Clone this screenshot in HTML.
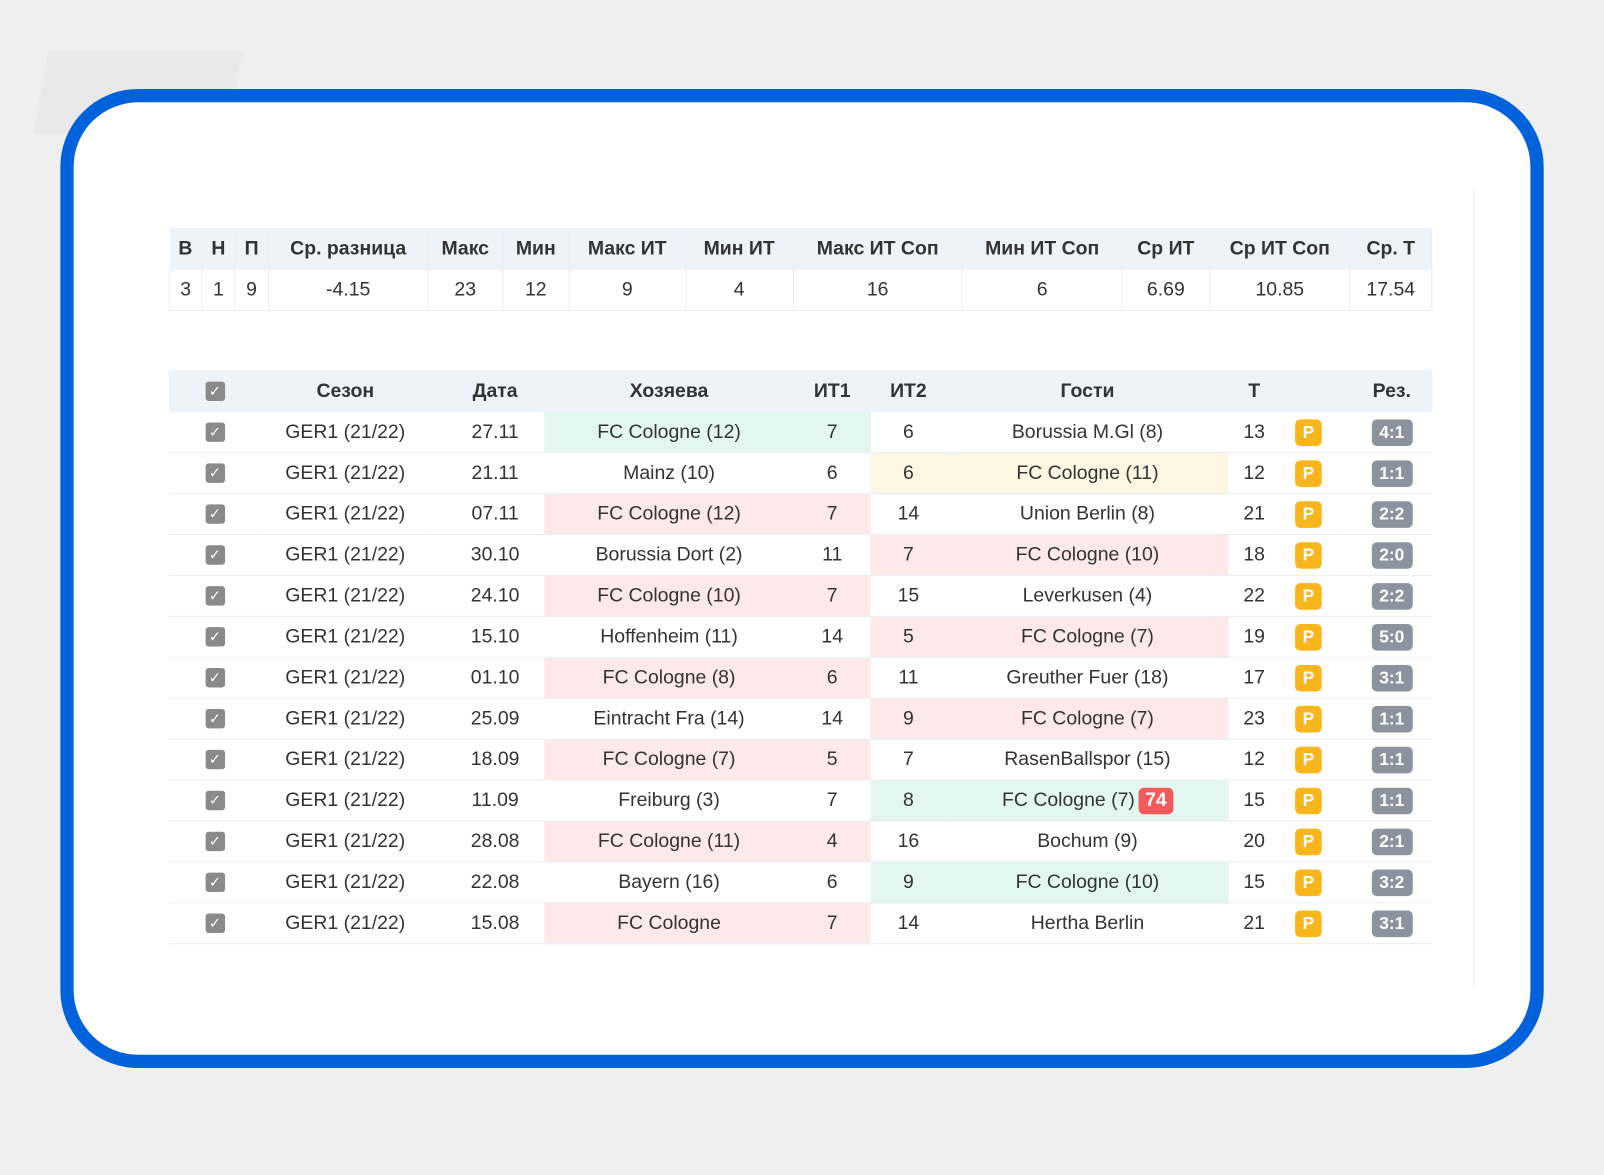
<!DOCTYPE html>
<html><head><meta charset="utf-8"><style>
html,body{margin:0;padding:0;width:1604px;height:1175px;overflow:hidden;background:#efefef;}
#wrap{position:absolute;left:0;top:0;width:1568px;height:1149px;transform:scale(1.023);transform-origin:0 0;font-family:"Liberation Sans","DejaVu Sans",sans-serif;color:#333;}
.bgshape{position:absolute;background:#e9e9e9;}
#card{position:absolute;left:59px;top:87px;width:1424px;height:931px;border:13px solid #0062da;border-radius:76px;background:#fff;}
.vline{position:absolute;left:1440px;top:185px;width:1px;height:780px;background:#eeeeee;}
table{position:absolute;border-collapse:collapse;font-size:19px;}
td,th{text-align:center;padding:0;}
#stats{left:165px;top:223px;width:1235px;}
#stats th{height:41px;background:#eef2f9;font-weight:bold;border-right:1px solid #e9eef5;}
#stats td{height:39px;border:1px solid #e9eef5;border-top:none;}
#main{left:165px;top:362px;width:1235px;}
#main th{height:41px;background:#eef2f9;font-weight:bold;}
#main td{height:39px;border-bottom:1px solid #e9eef5;}
#main td:nth-child(3),#main th:nth-child(3){padding-left:16px;}
#main td:nth-child(10),#main th:nth-child(10){padding-left:14px;}
.cb{display:inline-block;width:19px;height:19px;background:#8a8a8a;border-radius:3px;color:#fff;font-size:14px;line-height:19px;font-weight:bold;vertical-align:middle;}
.p{display:inline-block;width:26px;height:26px;background:#f9b51c;border-radius:5px;color:#fff;font-weight:bold;font-size:17px;line-height:26px;}
.r{display:inline-block;width:40px;height:26px;background:#8a939e;border-radius:5px;color:#fff;font-weight:bold;font-size:17px;line-height:26px;}
.g{background:#e3f7f0;} .pk{background:#fde9e9;} .y{background:#fdf6e2;}
.badge{display:inline-block;background:#f25b5b;color:#fff;font-weight:bold;border-radius:5px;padding:0 6px;height:26px;line-height:26px;margin-left:4px;}
</style></head><body>
<div id="wrap">
<div class="bgshape" style="left:40px;top:50px;width:190px;height:80px;transform:skewX(-10deg)"></div>
<div id="card"></div>
<div class="vline"></div>
<table id="stats">
<colgroup><col style="width:32px"><col style="width:32px"><col style="width:33px"><col style="width:156px"><col style="width:73px"><col style="width:65px"><col style="width:114px"><col style="width:105px"><col style="width:166px"><col style="width:156px"><col style="width:86px"><col style="width:137px"><col style="width:80px"></colgroup>
<tr><th>В</th><th>Н</th><th>П</th><th>Ср. разница</th><th>Макс</th><th>Мин</th><th>Макс ИТ</th><th>Мин ИТ</th><th>Макс ИТ Соп</th><th>Мин ИТ Соп</th><th>Ср ИТ</th><th>Ср ИТ Соп</th><th>Ср. Т</th></tr>
<tr><td>3</td><td>1</td><td>9</td><td>-4.15</td><td>23</td><td>12</td><td>9</td><td>4</td><td>16</td><td>6</td><td>6.69</td><td>10.85</td><td>17.54</td></tr>
</table>
<table id="main">
<colgroup><col style="width:90px"><col style="width:165px"><col style="width:112px"><col style="width:244px"><col style="width:75px"><col style="width:74px"><col style="width:276px"><col style="width:50px"><col style="width:56px"><col style="width:93px"></colgroup>
<thead><tr><th><span class="cb">✓</span></th><th>Сезон</th><th>Дата</th><th>Хозяева</th><th>ИТ1</th><th>ИТ2</th><th>Гости</th><th>Т</th><th></th><th>Рез.</th></tr></thead>
<tbody id="tb"></tbody>
</table>
</div>
<script>
const dates=["27.11","21.11","07.11","30.10","24.10","15.10","01.10","25.09","18.09","11.09","28.08","22.08","15.08"];
const homes=["FC Cologne (12)","Mainz (10)","FC Cologne (12)","Borussia Dort (2)","FC Cologne (10)","Hoffenheim (11)","FC Cologne (8)","Eintracht Fra (14)","FC Cologne (7)","Freiburg (3)","FC Cologne (11)","Bayern (16)","FC Cologne"];
const it1=[7,6,7,11,7,14,6,14,5,7,4,6,7];
const it2=[6,6,14,7,15,5,11,9,7,8,16,9,14];
const aways=["Borussia M.Gl (8)","FC Cologne (11)","Union Berlin (8)","FC Cologne (10)","Leverkusen (4)","FC Cologne (7)","Greuther Fuer (18)","FC Cologne (7)","RasenBallspor (15)","FC Cologne (7)","Bochum (9)","FC Cologne (10)","Hertha Berlin"];
const totals=[13,12,21,18,22,19,17,23,12,15,20,15,21];
const results=["4:1","1:1","2:2","2:0","2:2","5:0","3:1","1:1","1:1","1:1","2:1","3:2","3:1"];
const hl=["hg","ay","hp","ap","hp","ap","hp","ap","hp","ag","hp","ag","hp"];
const tb=document.getElementById('tb');
const cls={g:'g',p:'pk',y:'y'};
for(let i=0;i<dates.length;i++){
  const tr=document.createElement('tr');
  
  
  const side=hl[i][0], c=cls[hl[i][1]];
  const hc=side==='h'?c:'', ac=side==='a'?c:'';
  const badge=i===9?'<span class="badge">74</span>':'';
  tr.innerHTML=`<td><span class="cb">✓</span></td><td>GER1 (21/22)</td><td>${dates[i]}</td><td class="${hc}">${homes[i]}</td><td class="${hc}">${it1[i]}</td><td class="${ac}">${it2[i]}</td><td class="${ac}">${aways[i]}${badge}</td><td>${totals[i]}</td><td><span class="p">P</span></td><td><span class="r">${results[i]}</span></td>`;
  tb.appendChild(tr);
  const cb=tr.querySelector('.cb');
  
  
}
</script>
</body></html>
